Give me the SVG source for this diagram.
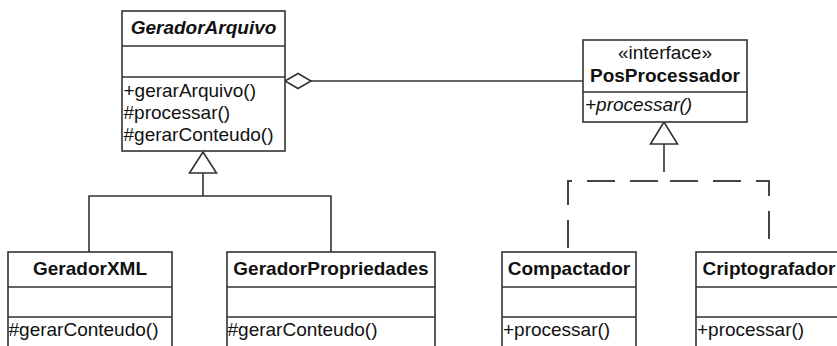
<svg xmlns="http://www.w3.org/2000/svg" width="837" height="346" viewBox="0 0 837 346">
<style>
.box{fill:#fff;stroke:#333;stroke-width:1.6}
.ln{stroke:#333;stroke-width:1.6;fill:none}
.t{font-family:"Liberation Sans",Arial,sans-serif;font-size:19px;fill:#111}
.b{font-weight:bold}
.i{font-style:italic}
.c{text-anchor:middle}
.dash{stroke:#444;stroke-width:2;fill:none;stroke-dasharray:28 15}
</style>
<rect width="837" height="346" fill="#fff"/>
<g id="connectors">
  <line class="ln" x1="311" y1="81" x2="583" y2="81"/>
  <polygon points="285,81 298,73.5 311,81 298,88.5" fill="#fff" stroke="#333" stroke-width="1.6"/>
  <path class="ln" d="M203,173 V196 M89,252 V196 H331 V252"/>
  <polygon points="203,152 189.5,173 216.5,173" fill="#fff" stroke="#333" stroke-width="1.6"/>
  <line class="ln" x1="664" y1="144" x2="664" y2="172" stroke-width="2"/>
  <polygon points="664,122 650.5,144 677.5,144" fill="#fff" stroke="#333" stroke-width="1.6"/>
  <path class="dash" d="M663,181 H568 V252" stroke-dashoffset="38"/>
  <path class="dash" d="M663,181 H769 V252" stroke-dashoffset="36"/>
</g>
<g id="GeradorArquivo">
  <rect class="box" x="122" y="11" width="163" height="140"/>
  <line class="ln" x1="122" y1="46" x2="285" y2="46"/>
  <line class="ln" x1="122" y1="77" x2="285" y2="77"/>
  <text class="t b i c" x="203.5" y="34">GeradorArquivo</text>
  <text class="t" x="123.5" y="97">+gerarArquivo()</text>
  <text class="t" x="123.5" y="119">#processar()</text>
  <text class="t" x="123.5" y="141">#gerarConteudo()</text>
</g>
<g id="PosProcessador">
  <rect class="box" x="583" y="40" width="164" height="82"/>
  <line class="ln" x1="583" y1="92" x2="747" y2="92"/>
  <text class="t c" x="665" y="59">«interface»</text>
  <text class="t b c" x="665" y="82">PosProcessador</text>
  <text class="t i" x="585" y="111">+processar()</text>
</g>
<g id="GeradorXML">
  <rect class="box" x="8" y="252" width="164" height="110"/>
  <line class="ln" x1="8" y1="287" x2="172" y2="287"/>
  <line class="ln" x1="8" y1="317" x2="172" y2="317"/>
  <text class="t b c" x="90" y="275">GeradorXML</text>
  <text class="t" x="8.5" y="336">#gerarConteudo()</text>
</g>
<g id="GeradorPropriedades">
  <rect class="box" x="227" y="252" width="208" height="110"/>
  <line class="ln" x1="227" y1="287" x2="435" y2="287"/>
  <line class="ln" x1="227" y1="317" x2="435" y2="317"/>
  <text class="t b c" x="331" y="275">GeradorPropriedades</text>
  <text class="t" x="227.5" y="336">#gerarConteudo()</text>
</g>
<g id="Compactador">
  <rect class="box" x="502" y="252" width="134" height="110"/>
  <line class="ln" x1="502" y1="287" x2="636" y2="287"/>
  <line class="ln" x1="502" y1="317" x2="636" y2="317"/>
  <text class="t b c" x="569" y="275">Compactador</text>
  <text class="t" x="503" y="336">+processar()</text>
</g>
<g id="Criptografador">
  <rect class="box" x="696" y="252" width="146" height="110"/>
  <line class="ln" x1="696" y1="287" x2="842" y2="287"/>
  <line class="ln" x1="696" y1="317" x2="842" y2="317"/>
  <text class="t b c" x="769" y="275">Criptografador</text>
  <text class="t" x="697" y="336">+processar()</text>
</g>
</svg>
